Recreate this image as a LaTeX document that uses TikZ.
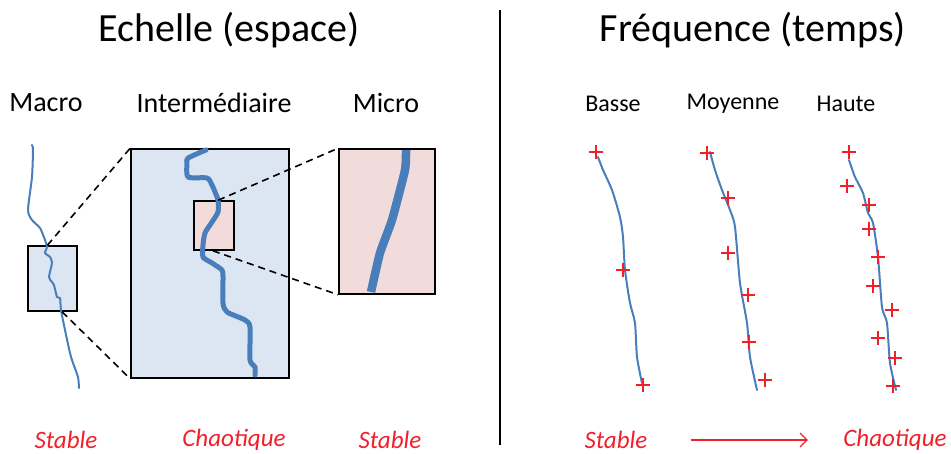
\documentclass[tikz,border=0pt]{standalone}
\usepackage{fontspec}
\setmainfont{Carlito}
\usepackage{xcolor}
\usetikzlibrary{arrows.meta,calc}

\definecolor{boxblue}{HTML}{DCE6F2}
\definecolor{boxpink}{HTML}{F2DCDB}
\definecolor{riverblue}{HTML}{4A7EBB}
\definecolor{markred}{HTML}{F0202A}

\begin{document}
\begin{tikzpicture}[
    x=1pt, y=-1pt,
    title/.style={font=\fontsize{40}{48}\selectfont},
    scalelabel/.style={font=\fontsize{28}{34}\selectfont},
    freqlabel/.style={font=\fontsize{24}{29}\selectfont},
    verdict/.style={font=\itshape\fontsize{25}{30}\selectfont, text=markred},
    zoombox/.style={draw, line width=1.6pt, inner sep=0pt},
    thinriver/.style={riverblue, line width=2pt, line join=round, line cap=round},
    thickriver/.style={riverblue, line width=5pt, line join=round, line cap=round},
    zoomline/.style={line width=1.6pt, dash pattern=on 7pt off 5pt},
    plusmark/.style={markred, line width=2.2pt},
]
\useasboundingbox (0,0) rectangle (951,453);

% ---------- Titles ----------
\node[title] (echelle) at (229,30) {Echelle (espace)};
\node[title] (freq) at (753,30) {Fréquence (temps)};
\draw[line width=1.6pt] (500,10) -- (500,445);

% ---------- Scale: boxes ----------
\node[scalelabel] (macro) at (46,103) {Macro};
\node[scalelabel] (inter) at (214,103) {Intermédiaire};
\node[scalelabel] (micro) at (386,103) {Micro};

\node[zoombox, fill=boxblue, minimum width=49, minimum height=65] (macbox) at (52.5,278.5) {};
\node[zoombox, fill=boxblue, minimum width=158, minimum height=229] (intbox) at (210,263.5) {};
\node[zoombox, fill=boxpink, minimum width=40, minimum height=49] (pinkbox) at (214,225.5) {};
\node[zoombox, fill=boxpink, minimum width=96, minimum height=145] (micbox) at (387,221.5) {};

% ---------- Scale: rivers ----------
\draw[thinriver] plot[smooth, tension=0.4] coordinates {(32,145) (33,150) (32,177) (28,210) (32,220) (40,228)
    (45,240) (47,247) (45,253) (50,257) (52,263) (49,277) (52,282) (54,285) (57,297) (60,298)
    (61,310) (65,330) (70,353) (73,363) (78,377) (79,388)};
\draw[thickriver] plot[smooth, tension=0.4] coordinates {(206,150) (188,158) (187,163) (188,177) (207,178)
    (212,185) (218,200) (218,212) (212,222) (205,233) (203,245) (203,257) (212,263) (222,270)
    (223,277) (223,303) (227,312) (245,320) (250,327) (250,360) (255,367) (255,375)};
\draw[riverblue, line width=8.5pt] plot[smooth, tension=0.3] coordinates {(406,150) (405,170) (392,220) (380,253) (371,292)};

% ---------- Scale: zoom lines ----------
\draw[zoomline] ($(macbox.north west)!0.4!(macbox.north east)$) -- (intbox.north west);
\draw[zoomline] ($(macbox.south west)!0.69!(macbox.south east)$) -- (intbox.south west);
\draw[zoomline] ($(pinkbox.north west)!0.6!(pinkbox.north east)$) -- (micbox.north west);
\draw[zoomline] ($(pinkbox.south west)!0.475!(pinkbox.south east)$) -- (micbox.south west);

% ---------- Frequency: series ----------
\node[freqlabel] (basse) at (613,104) {Basse};
\node[freqlabel] (moyenne) at (733,104) {Moyenne};
\node[freqlabel] (haute) at (846,104) {Haute};

\draw[thinriver] plot[smooth, tension=0.4] coordinates {(598,157) (603,170) (612,190) (620,217) (623,237)
    (625,270) (630,303) (635,323) (637,357) (642,383)};
\draw[thinriver] plot[smooth, tension=0.4] coordinates {(710,152) (715,170) (722,190) (730,210) (735,227)
    (740,283) (747,323) (750,357) (757,390)};
\draw[thinriver] plot[smooth, tension=0.4] coordinates {(849,160) (855,177) (863,193) (868,213) (873,223)
    (878,257) (882,307) (887,323) (890,363) (896,390)};

\foreach \x/\y in {596/152, 623/270, 643/385,
                   707/153, 728/198, 728/253, 748/295, 749/342, 765/380,
                   849/152, 847/186, 869/205, 869/229, 878/257, 873/286, 892/310, 878/338, 895/358, 893/386}
    \draw[plusmark] (\x,\y) ++(-7,0) -- ++(14,0) (\x,\y) ++(0,-7) -- ++(0,14);

% ---------- Verdicts ----------
\node[verdict] (macstable) at (66,440) {Stable};
\node[verdict] (intchaos) at (234,440) {Chaotique};
\node[verdict] (micstable) at (390,440) {Stable};
\node[verdict] (fstable) at (616,440) {Stable};
\node[verdict] (fchaos) at (895,440) {Chaotique};
\draw[markred, line width=1.2pt, -{Straight Barb[length=7pt, width=14pt]},
      shorten <=40pt, shorten >=32pt] (fstable.east) -- (fchaos.west);

\end{tikzpicture}
\end{document}
